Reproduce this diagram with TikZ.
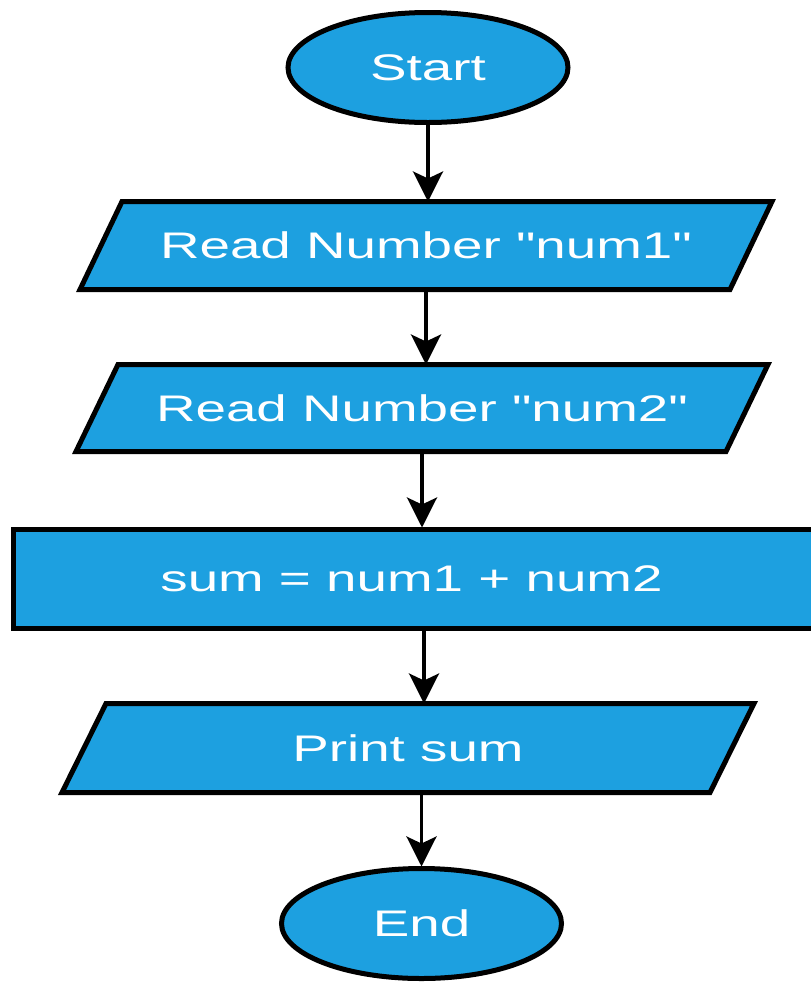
\documentclass[tikz,border=0pt]{standalone}
\usepackage{graphicx}
\usepackage{fontspec}
\setmainfont{Liberation Sans}[Ligatures=TeXOff]
\usetikzlibrary{shapes.geometric,arrows.meta,calc,backgrounds}
\definecolor{boxblue}{RGB}{29,160,224}
\newcommand{\widetxt}[1]{\scalebox{1.48}[1]{#1}}
\newcommand{\ioshape}[2]{%
  \begin{pgfonlayer}{background}
  \draw[iopath] ($(#1.north west)+(#2,0)$) -- (#1.north east)
     -- ($(#1.south east)-(#2,0)$) -- (#1.south west) -- cycle;
  \end{pgfonlayer}}
\begin{document}
\begin{tikzpicture}[x=1pt,y=-1pt,
  txt/.style={text=white, font=\fontsize{37}{44}\selectfont, inner sep=0pt, outer sep=2pt},
  base/.style={txt, draw=black, line width=5pt, fill=boxblue},
  term/.style={base, ellipse, minimum width=280pt, minimum height=110pt},
  io/.style={txt, rectangle, minimum width=688pt, minimum height=84pt},
  iopath/.style={draw=black, line width=5pt, fill=boxblue, line join=miter},
  proc/.style={base, rectangle, minimum width=805pt, minimum height=99pt},
  flow/.style={line width=3.5pt, -{Stealth[length=30pt,width=30pt,inset=7pt]}}
]
\useasboundingbox (0,0) rectangle (811,986);
\clip (0,0) rectangle (811,986);
\node[term] (start) at (428,67.5) {\widetxt{Start}};
\node[io] (in1) at (426,245.5) {\widetxt{Read Number "num1"}};
\ioshape{in1}{42}
\node[io, minimum height=83pt] (in2) at (422,408) {\widetxt{Read Number "num2"}};
\ioshape{in2}{42}
\node[proc] (calc) at (415.5,579) {\hspace*{-8pt}\widetxt{sum = num1 + num2}};
\node[io, minimum height=85pt] (out) at (408,748) {\widetxt{Print sum}};
\ioshape{out}{44}
\node[term] (end) at (421.5,923.5) {\widetxt{End}};
\draw[flow] (start.south) -- (start.south |- in1.north);
\draw[flow] (in1.south) -- (in1.south |- in2.north);
\draw[flow] (in2.south) -- (in2.south |- calc.north);
\draw[flow] ([xshift=8.5pt]calc.south) -- ([xshift=8.5pt]calc.south |- out.north);
\draw[flow] (out.south -| end.north) -- (end.north);
\end{tikzpicture}
\end{document}
